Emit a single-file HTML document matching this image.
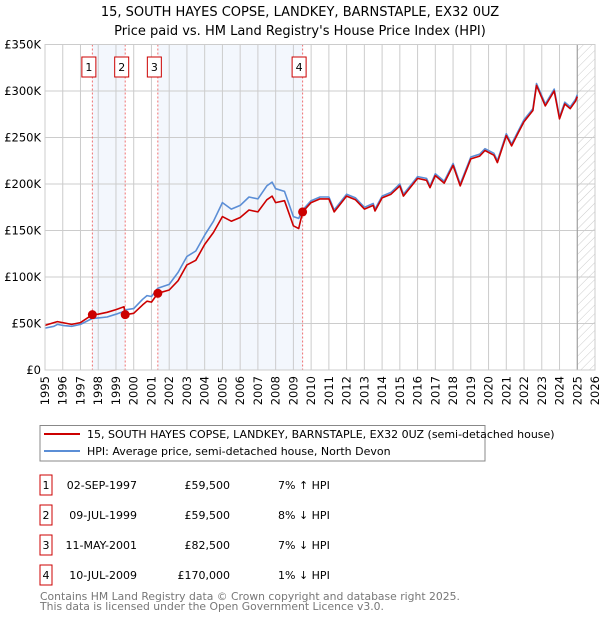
<!DOCTYPE html>
<html><head><meta charset="utf-8"><style>
body{margin:0;background:#fff;font-family:"DejaVu Sans","Liberation Sans",sans-serif;}
svg text{font-family:"DejaVu Sans","Liberation Sans",sans-serif;}
</style></head><body>
<svg id="chart" width="600" height="620" xmlns="http://www.w3.org/2000/svg">
<defs><pattern id="hatch" width="6" height="6" patternUnits="userSpaceOnUse" patternTransform="rotate(45)"><line x1="0" y1="0" x2="0" y2="6" stroke="#ccc" stroke-width="1"/></pattern></defs>
<text x="300" y="16" text-anchor="middle" font-size="13">15, SOUTH HAYES COPSE, LANDKEY, BARNSTAPLE, EX32 0UZ</text>
<text x="300" y="35" text-anchor="middle" font-size="13">Price paid vs. HM Land Registry's House Price Index (HPI)</text>
<g id="plot"></g>
<rect x="40" y="425.5" width="445" height="35.5" fill="#fff" stroke="#888"/>
<line x1="44" y1="434" x2="80" y2="434" stroke="#cc0000" stroke-width="2"/>
<text x="87" y="438" font-size="11">15, SOUTH HAYES COPSE, LANDKEY, BARNSTAPLE, EX32 0UZ (semi-detached house)</text>
<line x1="44" y1="451" x2="80" y2="451" stroke="#5b8ed6" stroke-width="2"/>
<text x="87" y="455" font-size="11">HPI: Average price, semi-detached house, North Devon</text>
<g id="table" font-size="11"></g>
<text x="40" y="600" font-size="10.8" fill="#777">Contains HM Land Registry data © Crown copyright and database right 2025.</text>
<text x="40" y="610" font-size="10.8" fill="#777">This data is licensed under the Open Government Licence v3.0.</text>
</svg>
<script>
const years=[1995,1995.5,1995.7,1996,1996.5,1997,1997.67,1998,1998.5,1999,1999.45,1999.52,2000,2000.5,2000.75,2001,2001.36,2002,2002.5,2003,2003.5,2004,2004.5,2005,2005.5,2006,2006.5,2007,2007.5,2007.8,2008,2008.5,2009,2009.3,2009.52,2010,2010.5,2011,2011.3,2012,2012.5,2013,2013.5,2013.6,2014,2014.5,2015,2015.2,2016,2016.5,2016.7,2017,2017.5,2018,2018.4,2019,2019.5,2019.8,2020.3,2020.5,2021,2021.3,2021.7,2022,2022.5,2022.7,2023.2,2023.7,2024,2024.3,2024.6,2024.9,2025];
const hpiValues=[45,47,49,48,47,49,55.5,56,57,60,63,64.7,66,76,80,79,88,92,105,122,128,145,160,180,173,177,186,184,198,202,195,192,165,163,172,182,186,186,172,189,185,175,179,173,187,191,200,189,208,206,198,211,203,222,200,229,232,238,233,225,254,243,258,269,281,308,286,302,272,288,283,291,296];
const priceValues=[48,51,52,51,49,51,59.5,60,62,65,68,59.5,61,70,74,73,82.5,86,96,113,118,135,148,165,160,164,172,170,183,187,180,182,155,152,170,180,184,184,170,187,183,173,177,171,185,189,198,187,206,204,196,209,201,220,198,227,230,236,231,223,252,241,256,267,279,306,284,300,270,286,281,289,294];
const saleYears=[1997.67,1999.52,2001.36,2009.52];
const saleValues=[59.5,59.5,82.5,170];
const saleLabels=["1","2","3","4"];
const saleDates=["02-SEP-1997","09-JUL-1999","11-MAY-2001","10-JUL-2009"];
const salePrices=["£59,500","£59,500","£82,500","£170,000"];
const saleDiffs=["7% ↑ HPI","8% ↓ HPI","7% ↓ HPI","1% ↓ HPI"];
const yTicks=[0,50,100,150,200,250,300,350];
const yTickLabels=["£0","£50K","£100K","£150K","£200K","£250K","£300K","£350K"];
const xTicks=[1995,1996,1997,1998,1999,2000,2001,2002,2003,2004,2005,2006,2007,2008,2009,2010,2011,2012,2013,2014,2015,2016,2017,2018,2019,2020,2021,2022,2023,2024,2025,2026];

const NS="http://www.w3.org/2000/svg";
const L=45,R=595,T=44.5,B=370,X0=1995,X1=2026,YMAX=350;
const xs=v=>L+(v-X0)/(X1-X0)*(R-L);
const ys=v=>B-v/YMAX*(B-T);
const plot=document.getElementById('plot');
function mk(tag,attrs,parent){const e=document.createElementNS(NS,tag);for(const k in attrs)e.setAttribute(k,attrs[k]);(parent||plot).appendChild(e);return e;}

let bg=mk('rect',{x:L,y:T,width:R-L,height:B-T,fill:'#fff'});


let s1=mk('rect',{x:xs(saleYears[0]),y:T,width:xs(saleYears[1])-xs(saleYears[0]),height:B-T,fill:'#eef3fc',opacity:0.7});


let s2=mk('rect',{x:xs(saleYears[2]),y:T,width:xs(saleYears[3])-xs(saleYears[2]),height:B-T,fill:'#eef3fc',opacity:0.7});


let hz=mk('rect',{x:xs(2025),y:T,width:R-xs(2025),height:B-T,fill:'url(#hatch)'});



xTicks.forEach(t=>{
  let g=mk('line',{x1:xs(t),x2:xs(t),y1:T,y2:B,stroke:'#ccc','stroke-width':1});
  
  
  let tx=mk('text',{x:0,y:0,'font-size':11.5,'text-anchor':'end',transform:`translate(${xs(t)+4},${B+6}) rotate(-90)`});
  tx.textContent=t;
  
  
});
yTicks.forEach((t,i)=>{
  let g=mk('line',{x1:L,x2:R,y1:ys(t),y2:ys(t),stroke:'#ccc','stroke-width':1});
  
  
  let tx=mk('text',{x:L-4,y:ys(t)+4,'font-size':11.5,'text-anchor':'end'});
  tx.textContent=yTickLabels[i];
  
  
});
let vl=mk('line',{x1:xs(2025),x2:xs(2025),y1:T,y2:B,stroke:'#999','stroke-width':1});



saleYears.forEach((sy,i)=>{
  let l=mk('line',{x1:xs(sy),x2:xs(sy),y1:T,y2:B,stroke:'#f07070','stroke-width':1,'stroke-dasharray':'2,2'});
  
  
  let b=mk('rect',{x:xs(sy)-10.5,y:57,width:14,height:20,fill:'#fff',stroke:'#cc0000'});
  
  
  let t=mk('text',{x:xs(sy)-3.5,y:71,'font-size':11,'text-anchor':'middle'});
  t.textContent=saleLabels[i];
  
  
});

function path(vals,color,name){
  let d=years.map((y,i)=>(i?'L':'M')+xs(y).toFixed(1)+','+ys(vals[i]).toFixed(1)).join('');
  let p=mk('path',{d:d,fill:'none',stroke:color,'stroke-width':1.6,'stroke-linejoin':'round'});
  
  
}
path(hpiValues,'#5b8ed6','hpi-line');
path(priceValues,'#cc0000','price-paid-line');
saleYears.forEach((sy,i)=>{
  let c=mk('circle',{cx:xs(sy),cy:ys(saleValues[i]),r:4.5,fill:'#cc0000'});
  
  
});
let ax=mk('rect',{x:L,y:T,width:R-L,height:B-T,fill:'none',stroke:'#ccc'});



const tb=document.getElementById('table');
saleLabels.forEach((lab,i)=>{
  const y0=475+i*30;
  let b=mk('rect',{x:40,y:y0,width:12,height:20,fill:'#fff',stroke:'#cc0000'},tb);
  
  
  const cells=[[46,'middle',lab],[137,'end',saleDates[i]],[230,'end',salePrices[i]],[278,'start',saleDiffs[i]]];
  cells.forEach(c=>{
    let t=mk('text',{x:c[0],y:y0+14,'text-anchor':c[1]},tb);
    t.textContent=c[2];
    
    
  });
});
</script>
</body></html>
